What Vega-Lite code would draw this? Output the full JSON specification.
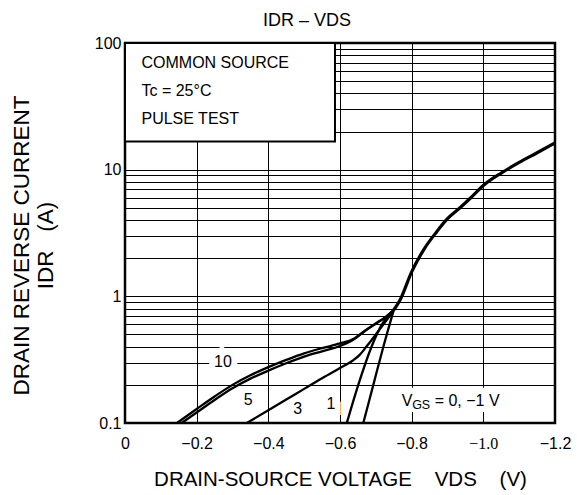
{
  "$schema": "https://vega.github.io/schema/vega-lite/v6.json",
  "width": 430,
  "height": 380,
  "autosize": "none",
  "padding": {"left": 125, "top": 43, "right": 22, "bottom": 72},
  "background": "white",
  "title": {"text": "IDR – VDS", "fontSize": 18, "font": "Liberation Sans", "fontWeight": "normal", "color": "black", "dx": -33, "offset": 5, "anchor": "middle"},
  "config": {"view": {"stroke": "black", "strokeWidth": 2.5}, "font": "Liberation Sans"},
  "datasets": {
    "curves": [
      {"s": "10", "v": -0.145, "i": 0.1}, {"s": "10", "v": -0.2, "i": 0.129}, {"s": "10", "v": -0.25, "i": 0.162}, {"s": "10", "v": -0.3, "i": 0.2}, {"s": "10", "v": -0.35, "i": 0.238}, {"s": "10", "v": -0.4, "i": 0.276}, {"s": "10", "v": -0.45, "i": 0.315}, {"s": "10", "v": -0.5, "i": 0.355}, {"s": "10", "v": -0.55, "i": 0.39}, {"s": "10", "v": -0.6, "i": 0.425}, {"s": "10", "v": -0.64, "i": 0.465}, {"s": "10", "v": -0.67, "i": 0.535}, {"s": "10", "v": -0.7, "i": 0.61}, {"s": "10", "v": -0.725, "i": 0.68}, {"s": "10", "v": -0.75, "i": 0.78},
      {"s": "5", "v": -0.158, "i": 0.1}, {"s": "5", "v": -0.2, "i": 0.121}, {"s": "5", "v": -0.25, "i": 0.152}, {"s": "5", "v": -0.3, "i": 0.188}, {"s": "5", "v": -0.35, "i": 0.224}, {"s": "5", "v": -0.4, "i": 0.259}, {"s": "5", "v": -0.45, "i": 0.296}, {"s": "5", "v": -0.5, "i": 0.334}, {"s": "5", "v": -0.55, "i": 0.368}, {"s": "5", "v": -0.6, "i": 0.405}, {"s": "5", "v": -0.64, "i": 0.46}, {"s": "5", "v": -0.67, "i": 0.535}, {"s": "5", "v": -0.7, "i": 0.61}, {"s": "5", "v": -0.725, "i": 0.68}, {"s": "5", "v": -0.75, "i": 0.78},
      {"s": "3", "v": -0.34, "i": 0.1}, {"s": "3", "v": -0.4, "i": 0.126}, {"s": "3", "v": -0.45, "i": 0.153}, {"s": "3", "v": -0.5, "i": 0.186}, {"s": "3", "v": -0.55, "i": 0.226}, {"s": "3", "v": -0.6, "i": 0.272}, {"s": "3", "v": -0.635, "i": 0.31}, {"s": "3", "v": -0.655, "i": 0.345}, {"s": "3", "v": -0.675, "i": 0.405}, {"s": "3", "v": -0.7, "i": 0.5}, {"s": "3", "v": -0.725, "i": 0.62}, {"s": "3", "v": -0.75, "i": 0.78},
      {"s": "1", "v": -0.619, "i": 0.1}, {"s": "1", "v": -0.651, "i": 0.2}, {"s": "1", "v": -0.688, "i": 0.4}, {"s": "1", "v": -0.717, "i": 0.6}, {"s": "1", "v": -0.75, "i": 0.78},
      {"s": "0", "v": -0.665, "i": 0.1}, {"s": "0", "v": -0.693, "i": 0.2}, {"s": "0", "v": -0.721, "i": 0.4}, {"s": "0", "v": -0.75, "i": 0.78},
      {"s": "main", "v": -0.75, "i": 0.78}, {"s": "main", "v": -0.768, "i": 0.94}, {"s": "main", "v": -0.8, "i": 1.56}, {"s": "main", "v": -0.833, "i": 2.32}, {"s": "main", "v": -0.87, "i": 3.24}, {"s": "main", "v": -0.898, "i": 4.05}, {"s": "main", "v": -0.935, "i": 5.0}, {"s": "main", "v": -0.965, "i": 6.0}, {"s": "main", "v": -1.0, "i": 7.5}, {"s": "main", "v": -1.05, "i": 9.4}, {"s": "main", "v": -1.1, "i": 11.4}, {"s": "main", "v": -1.15, "i": 13.6}, {"s": "main", "v": -1.2, "i": 16.3}
    ],
    "box": [{"v": 0, "v2": -0.586, "i": 16.7, "i2": 100}],
    "vgsbg": [{"v": -0.78, "v2": -1.04, "i": 0.122, "i2": 0.19}],
    "info": [
      {"v": -0.046, "i": 70, "t": "COMMON SOURCE"},
      {"v": -0.046, "i": 42, "t": "Tc = 25°C"},
      {"v": -0.046, "i": 25.2, "t": "PULSE TEST"}
    ],
    "labels": [
      {"v": -0.2735, "i": 0.305, "t": "10"},
      {"v": -0.344, "i": 0.152, "t": "5"},
      {"v": -0.482, "i": 0.129, "t": "3"},
      {"v": -0.575, "i": 0.14, "t": "1"}
    ],
    "vgs": [{"v": -0.772, "i": 0.149}]
  },
  "layer": [
    {
      "data": {"name": "box"},
      "mark": {"type": "rect", "fill": "white", "stroke": "black", "strokeWidth": 2},
      "encoding": {
        "x": {
          "field": "v", "type": "quantitative",
          "scale": {"domain": [0, -1.2], "nice": false, "zero": false},
          "axis": {
            "title": "DRAIN-SOURCE VOLTAGE\u00a0\u00a0\u00a0 VDS\u00a0\u00a0\u00a0 (V)",
            "titleFontSize": 20.5, "titleFontWeight": "normal", "titleColor": "black", "titlePadding": 18,
            "values": [0, -0.1, -0.2, -0.3, -0.4, -0.5, -0.6, -0.7, -0.8, -0.9, -1, -1.1, -1.2],
            "labelExpr": "datum.value == 0 ? '0' : (abs(round(datum.value * 10)) % 2 == 0 ? '−' + format(abs(datum.value), '.1f') : '')",
            "labelFont": {"condition": {"test": "abs(datum.value + 1) < 0.01", "value": "Liberation Serif"}, "value": "Liberation Sans"},
            "labelFontSize": 16, "labelColor": "black", "labelPadding": 12, "labelOverlap": false, "labelFlush": false,
            "ticks": false, "domain": false,
            "grid": true, "gridColor": "black", "gridWidth": 1, "gridOpacity": 1
          }
        },
        "x2": {"field": "v2"},
        "y": {
          "field": "i", "type": "quantitative",
          "scale": {"type": "log", "domain": [0.1, 100], "nice": false},
          "axis": {
            "title": ["DRAIN REVERSE CURRENT", "\u00a0\u00a0\u00a0\u00a0\u00a0\u00a0\u00a0\u00a0IDR\u00a0\u00a0\u00a0(A)"],
            "titleFontSize": 22.5, "titleFontWeight": "normal", "titleColor": "black", "titleLineHeight": 24,
            "titleX": -92, "titleY": 202, "titleAngle": -90,
            "values": [0.1, 0.2, 0.3, 0.4, 0.5, 0.6, 0.7, 0.8, 0.9, 1, 2, 3, 4, 5, 6, 7, 8, 9, 10, 20, 30, 40, 50, 60, 70, 80, 90, 100],
            "labelExpr": "datum.value == 0.1 ? '0.1' : datum.value == 1 ? '1' : datum.value == 10 ? '10' : datum.value == 100 ? '100' : ''",
            "labelFontSize": 16, "labelColor": "black", "labelPadding": 4, "labelOverlap": false, "labelFlush": false,
            "ticks": false, "domain": false,
            "grid": true, "gridColor": "black", "gridWidth": 1, "gridOpacity": 1
          }
        },
        "y2": {"field": "i2"}
      }
    },
    {
      "data": {"name": "vgsbg"},
      "mark": {"type": "rect", "fill": "white", "strokeWidth": 0},
      "encoding": {
        "x": {"field": "v", "type": "quantitative"},
        "x2": {"field": "v2"},
        "y": {"field": "i", "type": "quantitative"},
        "y2": {"field": "i2"}
      }
    },
    {
      "data": {"name": "info"},
      "mark": {"type": "text", "align": "left", "baseline": "middle", "fontSize": 16, "color": "black"},
      "encoding": {
        "x": {"field": "v", "type": "quantitative"},
        "y": {"field": "i", "type": "quantitative"},
        "text": {"field": "t"}
      }
    },
    {
      "data": {"name": "labels"},
      "mark": {"type": "text", "align": "center", "baseline": "middle", "fontSize": 16, "fill": "white", "stroke": "white", "strokeWidth": 12},
      "encoding": {
        "x": {"field": "v", "type": "quantitative"},
        "y": {"field": "i", "type": "quantitative"},
        "text": {"field": "t"}
      }
    },
    {
      "data": {"name": "curves"},
      "transform": [{"filter": "datum.s != 'main'"}],
      "mark": {"type": "line", "color": "black", "strokeWidth": 2.3, "interpolate": "monotone"},
      "encoding": {
        "x": {"field": "v", "type": "quantitative"},
        "y": {"field": "i", "type": "quantitative"},
        "detail": {"field": "s"}
      }
    },
    {
      "data": {"name": "curves"},
      "transform": [{"filter": "datum.s == 'main'"}],
      "mark": {"type": "line", "color": "black", "strokeWidth": 3.2, "interpolate": "monotone"},
      "encoding": {
        "x": {"field": "v", "type": "quantitative"},
        "y": {"field": "i", "type": "quantitative"}
      }
    },
    {
      "data": {"name": "labels"},
      "mark": {"type": "text", "align": "center", "baseline": "middle", "fontSize": 16, "color": "black"},
      "encoding": {
        "x": {"field": "v", "type": "quantitative"},
        "y": {"field": "i", "type": "quantitative"},
        "text": {"field": "t"}
      }
    },
    {
      "data": {"name": "vgs"},
      "mark": {"type": "text", "align": "left", "baseline": "middle", "fontSize": 16, "color": "black", "text": "V"},
      "encoding": {
        "x": {"field": "v", "type": "quantitative"},
        "y": {"field": "i", "type": "quantitative"}
      }
    },
    {
      "data": {"name": "vgs"},
      "mark": {"type": "text", "align": "left", "baseline": "middle", "fontSize": 12.5, "color": "black", "text": "GS", "dx": 10.5, "dy": 4},
      "encoding": {
        "x": {"field": "v", "type": "quantitative"},
        "y": {"field": "i", "type": "quantitative"}
      }
    },
    {
      "data": {"name": "vgs"},
      "mark": {"type": "text", "align": "left", "baseline": "middle", "fontSize": 16, "color": "black", "text": "= 0, −1 V", "dx": 33},
      "encoding": {
        "x": {"field": "v", "type": "quantitative"},
        "y": {"field": "i", "type": "quantitative"}
      }
    }
  ]
}
